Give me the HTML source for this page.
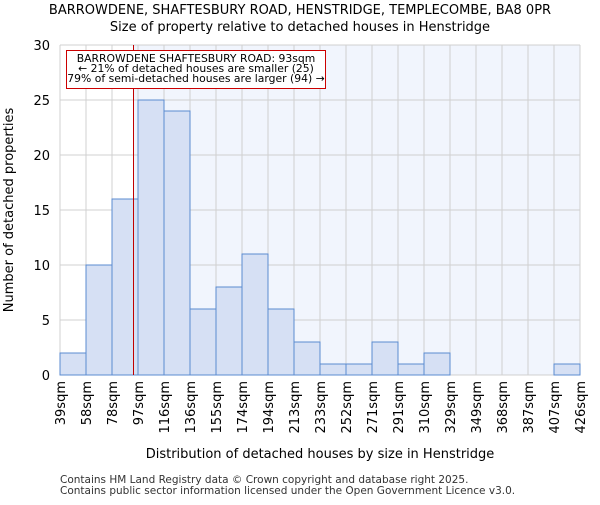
<!DOCTYPE html>
<html><head><meta charset="utf-8"><style>
body{margin:0;background:#fff}
svg{font-family:"DejaVu Sans","Liberation Sans",sans-serif}
</style></head><body>
<svg id="chart" width="600" height="500" xmlns="http://www.w3.org/2000/svg">
<text x="300" y="14" text-anchor="middle" font-size="13">BARROWDENE, SHAFTESBURY ROAD, HENSTRIDGE, TEMPLECOMBE, BA8 0PR</text>
<text x="300" y="31" text-anchor="middle" font-size="13">Size of property relative to detached houses in Henstridge</text>
<g id="plot"></g>
<text x="320" y="458" text-anchor="middle" font-size="13">Distribution of detached houses by size in Henstridge</text>
<text transform="translate(13,210) rotate(-90)" text-anchor="middle" font-size="13">Number of detached properties</text>
<text x="60" y="483" font-size="10.5" fill="#333">Contains HM Land Registry data © Crown copyright and database right 2025.</text>
<text x="60" y="494" font-size="10.5" fill="#333">Contains public sector information licensed under the Open Government Licence v3.0.</text>
</svg>
<script>
const categories=["39sqm","58sqm","78sqm","97sqm","116sqm","136sqm","155sqm","174sqm","194sqm","213sqm","233sqm","252sqm","271sqm","291sqm","310sqm","329sqm","349sqm","368sqm","387sqm","407sqm","426sqm"];
const counts=[2,10,16,25,24,6,8,11,6,3,1,1,3,1,2,0,0,0,0,1];
const yTicks=[0,5,10,15,20,25,30];
const subjectIndexPos=2.8;
const NS="http://www.w3.org/2000/svg";
const L=60,R=580,T=45,B=375,yMax=30;
const n=counts.length;
const xs=i=>L+(R-L)*i/n;
const ys=v=>B-(B-T)*v/yMax;
const g=document.getElementById('plot');
function mk(t,a){const e=document.createElementNS(NS,t);for(const k in a)e.setAttribute(k,a[k]);g.appendChild(e);return e;}
const sx=Math.round(xs(subjectIndexPos))+0.5;
let e=mk('rect',{x:sx,y:T,width:R-sx,height:B-T,fill:'#f1f5fd'});


for(let i=0;i<=n;i++){e=mk('line',{x1:xs(i),x2:xs(i),y1:T,y2:B,stroke:'#d0d0d0','stroke-width':1});

}
yTicks.forEach(v=>{e=mk('line',{x1:L,x2:R,y1:ys(v),y2:ys(v),stroke:'#d0d0d0','stroke-width':1});


e=mk('text',{x:L-10,y:ys(v)+5,'text-anchor':'end','font-size':13});e.textContent=v;

});
counts.forEach((c,i)=>{if(c<=0)return;e=mk('rect',{x:xs(i),y:ys(c),width:xs(i+1)-xs(i),height:B-ys(c),fill:'#d6e0f4',stroke:'#5b8bd0','stroke-width':1});

});
categories.forEach((c,i)=>{e=mk('text',{transform:`translate(${xs(i)+5},381) rotate(-90)`,'text-anchor':'end','font-size':13});e.textContent=c;

});
e=mk('line',{x1:sx,x2:sx,y1:T,y2:B,stroke:'#c00000','stroke-width':1});


e=mk('rect',{x:66.5,y:50.5,width:259,height:38,fill:'#fff',stroke:'#cc0000','stroke-width':1});


["BARROWDENE SHAFTESBURY ROAD: 93sqm","← 21% of detached houses are smaller (25)","79% of semi-detached houses are larger (94) →"].forEach((t,i)=>{
e=mk('text',{x:196,y:62+i*10,'text-anchor':'middle','font-size':10.8});e.textContent=t;

});
</script>
</body></html>
